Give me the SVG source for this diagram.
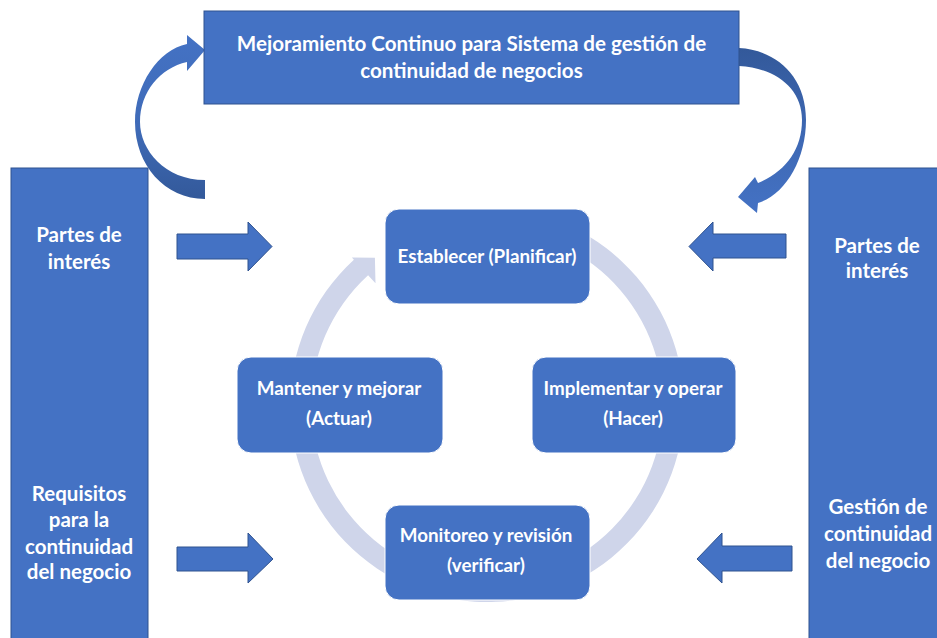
<svg xmlns="http://www.w3.org/2000/svg" width="937" height="638" viewBox="0 0 937 638">
  <defs>
    <linearGradient id="curveL" x1="0" y1="0" x2="0" y2="1">
      <stop offset="0" stop-color="#4472C4"/>
      <stop offset="0.55" stop-color="#3F6BB8"/>
      <stop offset="1" stop-color="#33599A"/>
    </linearGradient>
    <linearGradient id="curveR" x1="0" y1="0" x2="0" y2="1">
      <stop offset="0" stop-color="#33599A"/>
      <stop offset="0.5" stop-color="#3D67B2"/>
      <stop offset="1" stop-color="#4472C4"/>
    </linearGradient>
    <style>
      .box { fill: #4472C4; stroke: #2F528F; stroke-width: 1; }
      .rbox { fill: #4472C4; stroke: #FFFFFF; stroke-width: 1; }
      .blk { fill: #4472C4; stroke: #2F528F; stroke-width: 1; }
      .ring { fill: #CFD5EA; }
      .t { font-family: Lato, "Liberation Sans", sans-serif; font-weight: bold; fill: #FFFFFF; text-anchor: middle; }
      .title { font-size: 20.6px; }
      .side { font-size: 20.5px; }
      .node { font-size: 18.8px; }
    </style>
  </defs>
  <rect width="937" height="638" fill="#FFFFFF"/>

  <g id="connectors">
    <path id="cycle-ring" class="ring" d="M 570.3 226.5 A 197 197 0 1 1 353.9 259.7 L 351.9 257.5 L 374.9 257.8 L 375.5 283.3 L 368.1 275.2 A 176 176 0 1 0 561.4 245.5 Z"/>
    <path id="curve-left" fill="url(#curveL)" d="M 205 199 C 165 199 135 165 135 122 C 135 85 158 50 187 44 L 187 35 L 205 50 L 187 71 L 187 62 C 160 68 140 92 140 122 C 140 150 165 180 205 180 Z"/>
    <path id="curve-right" fill="url(#curveR)" d="M 739 48 C 775 50 806 75 806 120 C 806 160 785 195 758 203 L 757 213 L 738 197 L 755 177 L 758 183 C 785 172 802 150 802 120 C 802 88 775 68 739 66 Z"/>
    <path id="arrow-ul" class="blk" d="M177 234 H248 V222 L272 246.5 L248 271 V259 H177 Z"/>
    <path id="arrow-ll" class="blk" d="M177 547 H248 V533 L273 559 L248 583 V571 H177 Z"/>
    <path id="arrow-ur" class="blk" d="M786 234 H713 V222 L689 246.5 L713 271 V258 H786 Z"/>
    <path id="arrow-lr" class="blk" d="M792 546 H722 V533 L697 559 L722 583 V571 H792 Z"/>
  </g>

  <g id="node-title">
    <rect class="box" x="204" y="11" width="535" height="93"/>
    <text class="t title" x="471.5" y="51">Mejoramiento Continuo para Sistema de gestión de</text>
    <text class="t title" x="471.5" y="78">continuidad de negocios</text>
  </g>

  <g id="node-left">
    <rect class="box" x="11" y="168" width="137" height="480"/>
    <text class="t side" x="79" y="242">Partes de</text>
    <text class="t side" x="79" y="269">interés</text>
    <text class="t side" x="79" y="501">Requisitos</text>
    <text class="t side" x="79" y="527">para la</text>
    <text class="t side" x="79" y="554">continuidad</text>
    <text class="t side" x="79" y="579">del negocio</text>
  </g>

  <g id="node-right">
    <rect class="box" x="809" y="168" width="140" height="480"/>
    <text class="t side" x="877" y="253">Partes de</text>
    <text class="t side" x="877" y="278">interés</text>
    <text class="t side" x="878" y="514">Gestión de</text>
    <text class="t side" x="878" y="541">continuidad</text>
    <text class="t side" x="878" y="568">del negocio</text>
  </g>

  <g id="node-establecer">
    <rect class="rbox" x="385" y="209" width="205" height="95" rx="14"/>
    <text class="t node" x="487" y="263">Establecer (Planificar)</text>
  </g>

  <g id="node-mantener">
    <rect class="rbox" x="237" y="357" width="206" height="96" rx="14"/>
    <text class="t node" x="339" y="395">Mantener y mejorar</text>
    <text class="t node" x="339" y="425">(Actuar)</text>
  </g>

  <g id="node-implementar">
    <rect class="rbox" x="532" y="357" width="204" height="96" rx="14"/>
    <text class="t node" x="633" y="395">Implementar y operar</text>
    <text class="t node" x="633" y="425">(Hacer)</text>
  </g>

  <g id="node-monitoreo">
    <rect class="rbox" x="385" y="505" width="205" height="95" rx="14"/>
    <text class="t node" x="486" y="542">Monitoreo y revisión</text>
    <text class="t node" x="486" y="572">(verificar)</text>
  </g>
</svg>
